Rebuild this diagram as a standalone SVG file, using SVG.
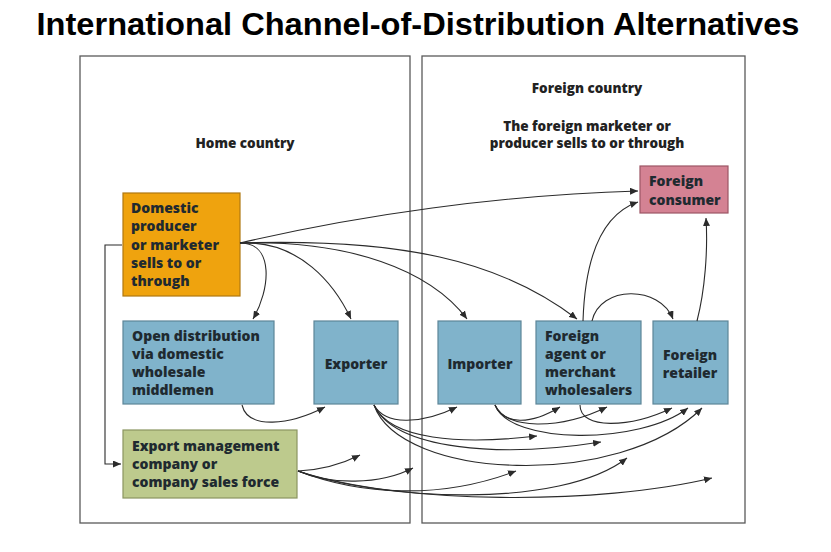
<svg xmlns="http://www.w3.org/2000/svg" width="831" height="552" viewBox="0 0 831 552">
<defs>
<marker id="arr" markerUnits="userSpaceOnUse" markerWidth="9" markerHeight="7" refX="8" refY="3.5" orient="auto">
<path d="M0,0 L8,3.5 L0,7 z" fill="#2b2b2b"/>
</marker>
<style>
.panel{fill:#fff;stroke:#5a5a5a;stroke-width:1.3}
.lbl{font-family:"Open Sans",Lato,"Liberation Sans",sans-serif;font-weight:800;font-size:14px;fill:#1f2a30}
.hdr{font-family:"Open Sans",Lato,"Liberation Sans",sans-serif;font-weight:800;font-size:13.5px;fill:#222;text-anchor:middle}
.c{text-anchor:middle}
.blue{fill:#80b3cb;stroke:#5d8598;stroke-width:1.2}
.conn path{fill:none;stroke:#2b2b2b;stroke-width:1.1;marker-end:url(#arr)}
</style>
</defs>
<rect width="831" height="552" fill="#fff"/>
<text x="418" y="35" font-family="Liberation Sans, Arial, sans-serif" font-weight="bold" font-size="32" text-anchor="middle" textLength="763" lengthAdjust="spacingAndGlyphs" fill="#000">International Channel-of-Distribution Alternatives</text>

<g id="home-panel">
<rect class="panel" x="80" y="56" width="330" height="467"/>
<text class="hdr" x="245" y="148">Home country</text>
</g>
<g id="foreign-panel">
<rect class="panel" x="422" y="56" width="323" height="467"/>
<text class="hdr" x="587" y="93">Foreign country</text>
<text class="hdr" x="587" y="131">The foreign marketer or</text>
<text class="hdr" x="587" y="148">producer sells to or through</text>
</g>

<g id="domestic-producer">
<rect x="123" y="193" width="117" height="103" fill="#efa30e" stroke="#b07812" stroke-width="1.2"/>
<text class="lbl" x="131" y="213">Domestic</text>
<text class="lbl" x="131" y="231">producer</text>
<text class="lbl" x="131" y="250">or marketer</text>
<text class="lbl" x="131" y="268">sells to or</text>
<text class="lbl" x="131" y="286">through</text>
</g>
<g id="foreign-consumer">
<rect x="640" y="166" width="88" height="47" fill="#d48293" stroke="#9c5564" stroke-width="1.2"/>
<text class="lbl" x="649" y="186">Foreign</text>
<text class="lbl" x="649" y="205">consumer</text>
</g>
<g id="open-distribution">
<rect class="blue" x="123" y="321" width="151" height="83"/>
<text class="lbl" x="132" y="341">Open distribution</text>
<text class="lbl" x="132" y="359">via domestic</text>
<text class="lbl" x="132" y="377">wholesale</text>
<text class="lbl" x="132" y="395">middlemen</text>
</g>
<g id="exporter">
<rect class="blue" x="314" y="321" width="84" height="83"/>
<text class="lbl c" x="356" y="369">Exporter</text>
</g>
<g id="importer">
<rect class="blue" x="438" y="321" width="83" height="83"/>
<text class="lbl c" x="480" y="369">Importer</text>
</g>
<g id="foreign-agent">
<rect class="blue" x="536" y="321" width="105" height="83"/>
<text class="lbl" x="545" y="341">Foreign</text>
<text class="lbl" x="545" y="359">agent or</text>
<text class="lbl" x="545" y="377">merchant</text>
<text class="lbl" x="545" y="395">wholesalers</text>
</g>
<g id="foreign-retailer">
<rect class="blue" x="653" y="321" width="75" height="83"/>
<text class="lbl c" x="690" y="360">Foreign</text>
<text class="lbl c" x="690" y="378">retailer</text>
</g>
<g id="export-management">
<rect x="123" y="430" width="174" height="68" fill="#bdca8d" stroke="#8a9561" stroke-width="1.2"/>
<text class="lbl" x="132" y="451">Export management</text>
<text class="lbl" x="132" y="469">company or</text>
<text class="lbl" x="132" y="487">company sales force</text>
</g>

<g id="connectors" class="conn">
<path d="M240,243 C360,215 500,195 638,191"/>
<path d="M240,243 C275,243 270,290 253,319"/>
<path d="M240,243 C300,240 335,285 351,319"/>
<path d="M240,243 C350,240 430,270 467,319"/>
<path d="M240,243 C400,238 500,260 577,319"/>
<path d="M122,245 H105 V464 H121"/>
<path d="M242,405 C248,430 290,425 325,407"/>
<path d="M374,405 C385,425 420,425 457,407"/>
<path d="M374,405 C390,440 460,445 537,436"/>
<path d="M374,405 C395,450 500,458 601,442"/>
<path d="M374,405 C400,480 620,490 702,408"/>
<path d="M495,405 C505,425 530,425 560,407"/>
<path d="M495,405 C505,430 560,430 607,407"/>
<path d="M495,405 C510,445 640,445 688,408"/>
<path d="M580,405 C580,430 630,428 672,408"/>
<path d="M583,321 C585,260 600,215 638,202"/>
<path d="M592,321 C600,285 660,285 673,319"/>
<path d="M697,321 C705,290 708,250 706,218"/>
<path d="M298,471 C320,470 340,465 360,455"/>
<path d="M298,471 C330,485 380,485 413,468"/>
<path d="M298,471 C360,495 440,500 516,471"/>
<path d="M298,471 C380,500 560,510 627,458"/>
<path d="M298,471 C400,505 600,505 712,478"/>
</g>
</svg>
